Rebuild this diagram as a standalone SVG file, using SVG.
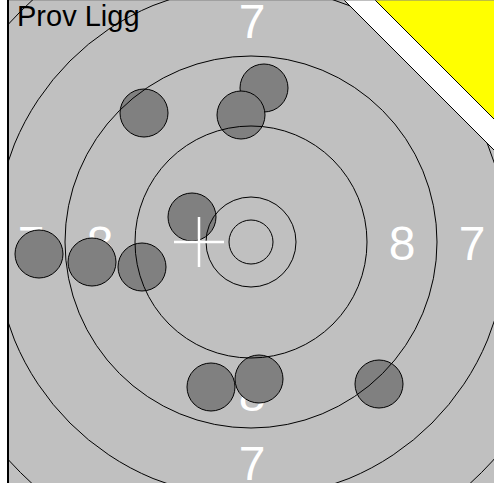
<svg xmlns="http://www.w3.org/2000/svg" width="494" height="483" viewBox="0 0 494 483">
<style>
.ring{fill:none;stroke:#000;stroke-width:1}
.shot{fill:#808080;stroke:#000;stroke-width:1}
.lbl{font-family:"Liberation Sans",Arial,sans-serif;font-size:48px;fill:#fff;text-anchor:middle}
.title{font-family:"Liberation Sans",Arial,sans-serif;font-size:29px;fill:#000}
</style>
<defs>
<clipPath id="face"><polygon points="9,0 344,0 494,150 494,483 9,483"/></clipPath>
</defs>
<rect width="494" height="483" fill="#fff"/>
<g id="background">
<polygon points="9,0 344,0 494,150 494,483 9,483" fill="#c0c0c0"/>
<polygon points="375,0 494,0 494,119" fill="#ffff00"/>
<line x1="344" y1="0" x2="494" y2="150" stroke="#000" stroke-width="1"/>
<line x1="375" y1="0" x2="494" y2="119" stroke="#000" stroke-width="1"/>
<line x1="9" y1="0" x2="494" y2="0" stroke="#808080" stroke-width="1"/>
<rect x="7" y="0" width="2" height="483" fill="#000"/>
</g>
<g id="labels">
<text class="lbl" x="252" y="38">7</text>
<text class="lbl" x="252" y="411">8</text>
<text class="lbl" x="252" y="480">7</text>
<text class="lbl" x="31" y="260">7</text>
<text class="lbl" x="100" y="260">8</text>
<text class="lbl" x="402" y="260">8</text>
<text class="lbl" x="472" y="260">7</text>
</g>
<g id="title">
<text class="title" x="17" y="26">Prov Ligg</text>
</g>
<g id="shots">
<circle class="shot" cx="144" cy="113" r="24"/>
<circle class="shot" cx="264" cy="88" r="24"/>
<circle class="shot" cx="241" cy="115" r="24"/>
<circle class="shot" cx="192" cy="217" r="24"/>
<circle class="shot" cx="39" cy="254" r="24"/>
<circle class="shot" cx="92" cy="262" r="24"/>
<circle class="shot" cx="142" cy="267" r="24"/>
<circle class="shot" cx="211" cy="387" r="24"/>
<circle class="shot" cx="259" cy="379" r="24"/>
<circle class="shot" cx="379" cy="384" r="24"/>
</g>
<g id="rings" clip-path="url(#face)">
<circle class="ring" cx="251" cy="242" r="22"/>
<circle class="ring" cx="251" cy="242" r="45"/>
<circle class="ring" cx="251" cy="242" r="116"/>
<circle class="ring" cx="251" cy="242" r="186"/>
<circle class="ring" cx="251" cy="242" r="256"/>
<circle class="ring" cx="251" cy="242" r="326"/>
</g>
<g id="cross" stroke="#fff" stroke-width="2.5">
<line x1="174" y1="242" x2="224" y2="242"/>
<line x1="199" y1="217" x2="199" y2="267"/>
</g>
</svg>
